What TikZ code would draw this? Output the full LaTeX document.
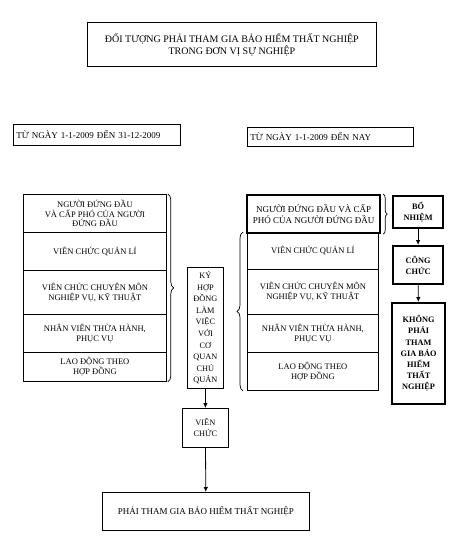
\documentclass[tikz,border=0pt]{standalone}
\usepackage{fontspec}
\setmainfont{Liberation Serif}
\usetikzlibrary{arrows.meta,decorations.pathreplacing}
\tikzset{
  bx/.style={draw, line width=0.8pt, inner sep=1pt, align=center, anchor=north west,
    font=\fontsize{8.5}{9.8}\selectfont},
  sz/.style 2 args={minimum width=#1pt, minimum height=#2pt},
  thk/.style={line width=2.2pt},
  bld/.style={font=\bfseries\fontsize{8.3}{#1}\selectfont},
  arr/.style={line width=0.8pt, -{Latex[length=5pt,width=4.5pt]}},
  brc/.style={decorate, decoration={brace, amplitude=6pt}, line width=0.7pt},
}
\begin{document}
\begin{tikzpicture}[x=1pt,y=-1pt]
\useasboundingbox (0,0) rectangle (454,538);
% title
\node[bx, sz={289}{44}, font=\fontsize{10}{12}\selectfont] (title) at (87,22)
  {ĐỐI TƯỢNG PHẢI THAM GIA BẢO HIỂM THẤT NGHIỆP\\TRONG ĐƠN VỊ SỰ NGHIỆP};
% dates
\node[bx, sz={167}{21}, font=\fontsize{9}{10}\selectfont, align=left, text width=161pt] (dl) at (13,124)
  {TỪ NGÀY 1-1-2009 ĐẾN 31-12-2009};
\node[bx, sz={166}{19}, font=\fontsize{9}{10}\selectfont, align=left, text width=160pt] (dr) at (247,127)
  {TỪ NGÀY 1-1-2009 ĐẾN NAY};
% left stack
\node[bx, sz={143}{38}] (l1) at (23,194) {NGƯỜI ĐỨNG ĐẦU\\VÀ CẤP PHÓ CỦA NGƯỜI\\ĐỨNG ĐẦU};
\node[bx, sz={143}{38}] (l2) at (23,232) {VIÊN CHỨC QUẢN LÍ};
\node[bx, sz={143}{44}] (l3) at (23,270) {VIÊN CHỨC CHUYÊN MÔN\\NGHIỆP VỤ, KỸ THUẬT};
\node[bx, sz={143}{38}] (l4) at (23,314) {NHÂN VIÊN THỪA HÀNH,\\PHỤC VỤ};
\node[bx, sz={143}{29}] (l5) at (23,352) {LAO ĐỘNG THEO\\HỢP ĐỒNG};
\path (l1.north east) ++(1,0) coordinate (lb1) (l5.south east) ++(1,0) coordinate (lb2);
\draw[brc] (lb1) -- (lb2);
% middle
\node[bx, sz={36}{121}, font=\fontsize{8.3}{11.6}\selectfont] (ky) at (187,267)
  {KÝ\\HỢP\\ĐỒNG\\LÀM\\VIỆC\\VỚI\\CƠ\\QUAN\\CHỦ\\QUẢN};
\node[bx, sz={46}{39}, font=\fontsize{8.3}{11}\selectfont] (vc) at (182,408) {VIÊN\\CHỨC};
\node[bx, sz={207}{38}, font=\fontsize{9}{10}\selectfont] (bot) at (102,492) {PHẢI THAM GIA BẢO HIỂM THẤT NGHIỆP};
\draw[arr] (ky) -- (vc);
\draw[arr] (vc) -- (bot);
% right stack
\node[bx, thk, sz={133}{38}, font=\fontsize{9}{11}\selectfont] (r1) at (246,194)
  {NGƯỜI ĐỨNG ĐẦU VÀ CẤP\\PHÓ CỦA NGƯỜI ĐỨNG ĐẦU};
\node[bx, sz={131}{37}] (r2) at (247,232) {VIÊN CHỨC QUẢN LÍ};
\node[bx, sz={131}{45}] (r3) at (247,269) {VIÊN CHỨC CHUYÊN MÔN\\NGHIỆP VỤ, KỸ THUẬT};
\node[bx, sz={131}{38}] (r4) at (247,314) {NHÂN VIÊN THỪA HÀNH,\\PHỤC VỤ};
\node[bx, sz={131}{38}] (r5) at (247,352) {LAO ĐỘNG THEO\\HỢP ĐỒNG};
\path (r5.south west) ++(-4,0) coordinate (rb1) (r2.north west) ++(-4,0) coordinate (rb2);
\draw[brc] (rb1) -- (rb2);
\path (r1.north east) ++(2,0) coordinate (sb1) (r1.south east) ++(2,0) coordinate (sb2);
\draw[brc, decoration={brace, amplitude=4pt}] (sb1) -- (sb2);
% right column
\node[bx, thk, sz={50}{32}, bld=10.5] (bn) at (392,195) {BỔ\\NHIỆM};
\node[bx, thk, sz={50}{38}, bld=11] (cc) at (392,245) {CÔNG\\CHỨC};
\node[bx, thk, sz={53}{101}, bld=11.2] (kp) at (391,302)
  {KHÔNG\\PHẢI\\THAM\\GIA BẢO\\HIỂM\\THẤT\\NGHIỆP};
\draw[arr] (bn) -- (cc);
\draw[arr] (cc) -- (kp);
\end{tikzpicture}
\end{document}
